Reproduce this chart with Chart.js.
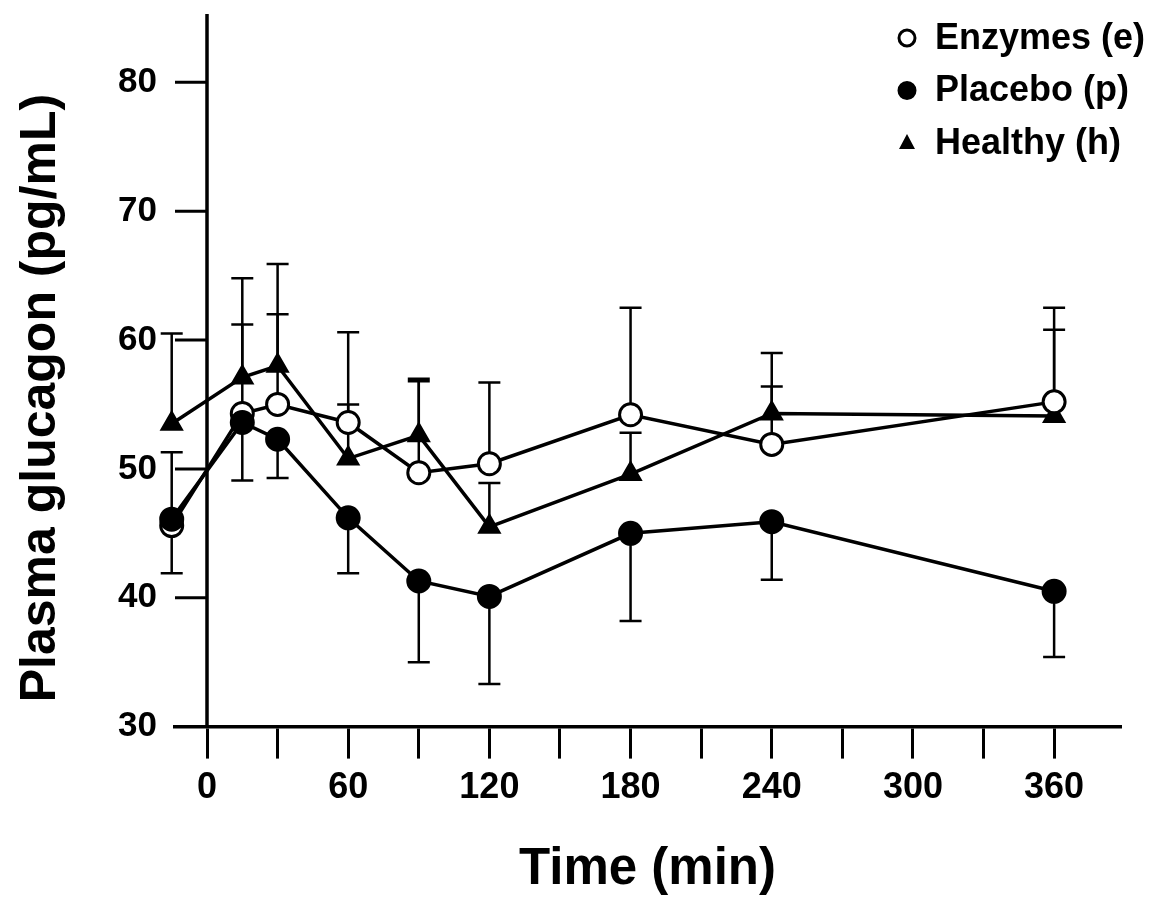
<!DOCTYPE html>
<html>
<head>
<meta charset="utf-8">
<title>Plasma glucagon</title>
<script src="https://cdn.jsdelivr.net/npm/chart.js@4.4.0/dist/chart.umd.min.js"></script>
<style>
  html, body { margin: 0; padding: 0; background: #fff; }
  #wrap { position: relative; width: 1163px; height: 902px; }
</style>
</head>
<body>
<div id="wrap"><canvas id="myChart"></canvas></div>
<script>
// time after meal (min)
const timePoints = [-15, 15, 30, 60, 90, 120, 180, 240, 360];
const seriesNames = ["Enzymes (e)", "Placebo (p)", "Healthy (h)"];

// means (pg/mL)
const enzymesMean = [45.6, 54.3, 55.0, 53.6, 49.7, 50.4, 54.2, 51.9, 55.2];
const placeboMean = [46.1, 53.6, 52.3, 46.2, 41.3, 40.1, 45.0, 45.9, 40.5];
const healthyMean = [53.5, 57.1, 58.0, 50.8, 52.6, 45.5, 49.6, 54.3, 54.1];

// error bar sizes (only one side drawn per group, like the figure)
const enzymesErr = [5.7, 6.9, 7.0, 7.0, 7.3, 6.3, 8.3, 7.1, 7.3];
const placeboErr = [4.2, 4.5, 3.0, 4.3, 6.3, 6.8, 6.8, 4.5, 5.1];
const healthyErr = [7.0, 7.7, 7.9, 4.2, 4.2, 3.4, 3.2, 2.1, 6.7];

const xTickStep = 30;
const xLabelStep = 60;
const yTickStep = 10;

const FONT = "'Liberation Sans', Arial, Helvetica, sans-serif";

function toPoints(means) {
    return timePoints.map((t, i) => ({ x: t, y: means[i] }));
}

// y axis crosses the x axis at time 0, so draw its line and ticks there
const crossAxisPlugin = {
    id: 'crossAxis',
    beforeDatasetsDraw(chart) {
        const ctx = chart.ctx;
        const area = chart.chartArea;
        const x0 = chart.scales.x.getPixelForValue(0);
        const yScale = chart.scales.y;
        ctx.save();
        ctx.strokeStyle = '#000';
        ctx.lineWidth = 3.5;
        ctx.beginPath();
        ctx.moveTo(x0, area.top);
        ctx.lineTo(x0, area.bottom + 1);
        ctx.stroke();
        ctx.lineWidth = 3;
        yScale.ticks.forEach(t => {
            const y = yScale.getPixelForValue(t.value);
            ctx.beginPath();
            ctx.moveTo(x0 - 32, y);
            ctx.lineTo(x0, y);
            ctx.stroke();
        });
        ctx.restore();
    }
};

const errorBarsPlugin = {
    id: 'errorBars',
    beforeDatasetsDraw(chart) {
        const ctx = chart.ctx;
        const xScale = chart.scales.x;
        const yScale = chart.scales.y;
        ctx.save();
        ctx.strokeStyle = '#000';
        ctx.lineWidth = 2.5;
        chart.data.datasets.forEach(ds => {
            ds.data.forEach((p, i) => {
                const end = p.y + ds.errorDir * ds.errors[i];
                const px = xScale.getPixelForValue(p.x);
                const py = yScale.getPixelForValue(p.y);
                const pe = yScale.getPixelForValue(end);
                ctx.beginPath();
                ctx.moveTo(px, py);
                ctx.lineTo(px, pe);
                ctx.moveTo(px - 11, pe);
                ctx.lineTo(px + 11, pe);
                ctx.stroke();
            });
        });
        ctx.restore();
    }
};

const legendPlugin = {
    id: 'cornerLegend',
    afterDraw(chart) {
        const ctx = chart.ctx;
        ctx.save();
        ctx.font = "bold 36px " + FONT;
        ctx.textBaseline = 'middle';
        chart.data.datasets.forEach((ds, i) => {
            const y = 38 + i * 52.5;
            const x = 907;
            ctx.lineWidth = 3;
            ctx.strokeStyle = '#000';
            ctx.beginPath();
            if (ds.pointStyle === 'triangle') {
                ctx.moveTo(x, y - 9);
                ctx.lineTo(x + 8, y + 6);
                ctx.lineTo(x - 8, y + 6);
                ctx.closePath();
                ctx.fillStyle = '#000';
                ctx.fill();
            } else {
                ctx.arc(x, y, 8, 0, Math.PI * 2);
                ctx.fillStyle = ds.pointBackgroundColor;
                ctx.fill();
                ctx.stroke();
            }
            ctx.fillStyle = '#000';
            ctx.fillText(ds.label, 935, y + 1);
        });
        ctx.restore();
    }
};

function makeDataset(label, means, errs, dir, style, fill, order) {
    return {
        label: label,
        data: toPoints(means),
        errors: errs,
        errorDir: dir,
        borderColor: '#000',
        borderWidth: 3.5,
        pointStyle: style,
        pointRadius: 11,
        pointBackgroundColor: fill,
        pointBorderColor: '#000',
        pointBorderWidth: 3,
        fill: false,
        tension: 0,
        clip: false,
        order: order
    };
}

document.addEventListener('DOMContentLoaded', function () {
    const canvas = document.getElementById('myChart');
    canvas.width = 1163;
    canvas.height = 902;

    new Chart(canvas, {
        type: 'line',
        data: {
            datasets: [
                makeDataset(seriesNames[0], enzymesMean, enzymesErr, 1, 'circle', '#fff', 2),
                makeDataset(seriesNames[1], placeboMean, placeboErr, -1, 'circle', '#000', 1),
                makeDataset(seriesNames[2], healthyMean, healthyErr, 1, 'triangle', '#000', 3)
            ]
        },
        options: {
            responsive: false,
            animation: false,
            devicePixelRatio: 1,
            layout: { padding: { left: 11, right: 43, top: 14, bottom: 1 } },
            plugins: {
                legend: { display: false },
                tooltip: { enabled: false }
            },
            scales: {
                x: {
                    type: 'linear',
                    min: -13.6,
                    max: 388,
                    position: 'bottom',
                    border: { color: '#000', width: 3.5 },
                    grid: { drawOnChartArea: false, drawTicks: true, tickLength: 32, lineWidth: 3, color: '#000' },
                    afterFit: scale => { scale.paddingLeft = 0; scale.paddingRight = 0; },
                    ticks: {
                        stepSize: xTickStep,
                        includeBounds: false,
                        autoSkip: false,
                        maxRotation: 0,
                        padding: 8,
                        color: '#000',
                        font: { family: FONT, size: 36, weight: 'bold' },
                        callback: v => (v % xLabelStep === 0 ? v : '')
                    },
                    title: {
                        display: true,
                        text: 'Time (min)',
                        color: '#000',
                        font: { family: FONT, size: 51, weight: 'bold' },
                        padding: { top: 22, bottom: 0 }
                    }
                },
                y: {
                    type: 'linear',
                    min: 30,
                    max: 85.3,
                    position: 'left',
                    border: { display: false },
                    grid: { display: false, drawTicks: false },
                    afterFit: scale => {
                        scale.width = 164;
                        scale.paddingTop = 0;
                        scale.paddingBottom = 0;
                    },
                    ticks: {
                        stepSize: yTickStep,
                        includeBounds: false,
                        padding: 18,
                        color: '#000',
                        font: { family: FONT, size: 35, weight: 'bold' }
                    },
                    title: {
                        display: true,
                        text: 'Plasma glucagon (pg/mL)    ',
                        color: '#000',
                        font: { family: FONT, size: 50, weight: 'bold' },
                        padding: { top: 0, bottom: 0 }
                    }
                }
            }
        },
        plugins: [crossAxisPlugin, errorBarsPlugin, legendPlugin]
    });
});
</script>
</body>
</html>
